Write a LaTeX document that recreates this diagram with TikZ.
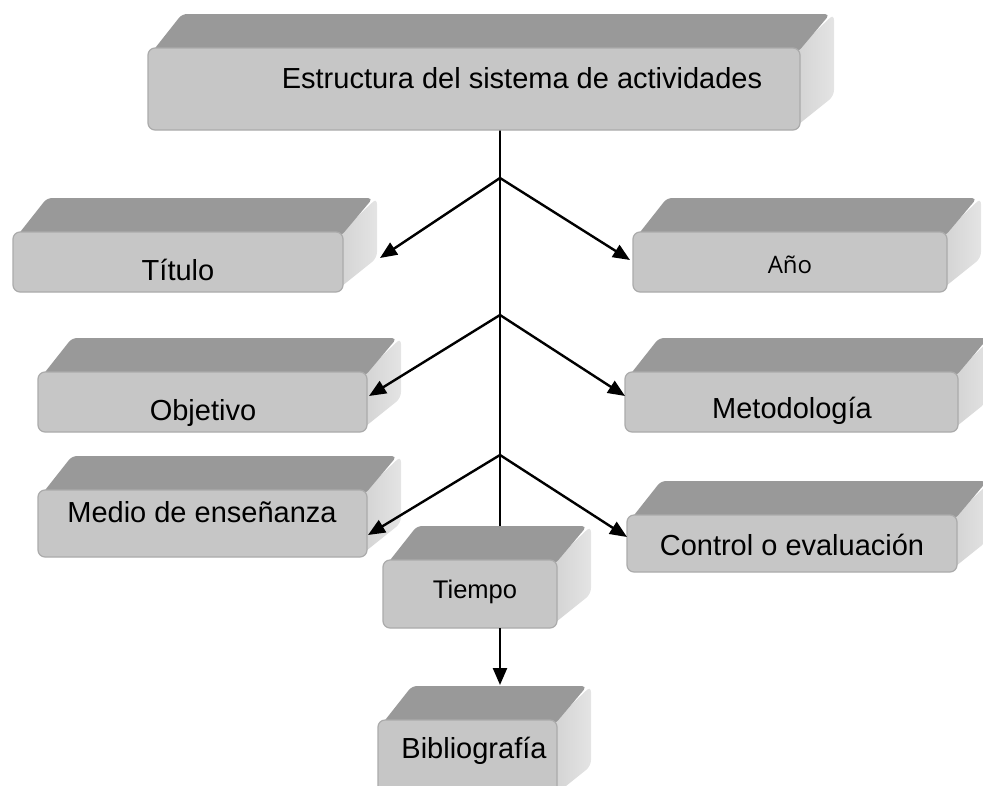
\documentclass[tikz,border=0pt]{standalone}
\usepackage{fontspec}
\setmainfont{Liberation Sans}
\newfontfamily\aofont{Open Sans}
\usetikzlibrary{arrows.meta}
\definecolor{frontc}{HTML}{C6C6C6}
\definecolor{topc}{HTML}{999999}
\definecolor{sidec}{HTML}{E4E4E4}
\definecolor{sidedk}{HTML}{D2D2D2}
\definecolor{edgec}{HTML}{ABABAB}
\tikzset{
  frontface/.style={draw=edgec, line width=1.2pt, fill=frontc, rounded corners=7pt,
    inner sep=0pt, outer sep=0pt},
  lbl/.style={inner sep=0pt, anchor=base, font=\fontsize{29}{34}\selectfont},
  conn/.style={line width=2.4pt, draw=black},
  arr/.style={conn, -{Triangle[length=17pt,width=14pt]}},
}
% name, x1, y1, x2, y2 (pixel coordinates, y downward), depth 34
\newcommand{\bevelbox}[5]{%
  \shade[left color=sidedk, right color=sidec, rounded corners=6pt]
    ({#4-6},{#3+4}) -- ({#4+34},{#3-34}) -- ({#4+34},{#5-34}) -- ({#4-6},{#5-2}) -- cycle;
  \fill[topc, rounded corners=5pt]
    ({#2+4},{#3+4}) -- ({#2+34},{#3-34}) -- ({#4+30},{#3-34}) -- ({#4-2},{#3+4}) -- cycle;
  \node[frontface, minimum width={#4-#2}, minimum height={#5-#3}] (#1)
    at ({(#2+#4)/2},{(#3+#5)/2}) {};
}
\begin{document}
\begin{tikzpicture}[x=1pt, y=-1pt]
\useasboundingbox (0,0) rectangle (983,785);
\clip (0,0) rectangle (983,785);

% connector coordinates
\coordinate (j0) at (500,130);
\coordinate (j4) at (500,560);
\coordinate (j1) at (500,178);
\coordinate (j2) at (500,315);
\coordinate (j3) at (500,455);
\coordinate (tTit) at (380,258);
\coordinate (tAno) at (630,260);
\coordinate (tObj) at (369,396);
\coordinate (tMet) at (625,396);
\coordinate (tMed) at (368,535);
\coordinate (tCon) at (627,537);
\coordinate (s5) at (500,628);
\coordinate (tBib) at (500,685);

% main trunk (behind the boxes)
\draw[conn] (j0) -- (j4);

% boxes
\bevelbox{top}{148}{48}{800}{130}
\bevelbox{tit}{13}{232}{343}{292}
\bevelbox{ano}{633}{232}{947}{292}
\bevelbox{obj}{38}{372}{367}{432}
\bevelbox{met}{625}{372}{958}{432}
\bevelbox{med}{38}{490}{367}{557}
\bevelbox{con}{627}{515}{957}{572}
\bevelbox{tie}{383}{560}{557}{628}
\bevelbox{bib}{378}{720}{557}{800}

% labels
\node[lbl] (ltop) at (522,88) {Estructura del sistema de actividades};
\node[lbl] (ltit) at (178,280) {Título};
\node[lbl, font=\aofont\fontsize{24}{28}\selectfont] (lano) at (790,273) {Año};
\node[lbl] (lobj) at (203,420) {Objetivo};
\node[lbl] (lmet) at (792,418) {Metodología};
\node[lbl] (lmed) at (202,522) {Medio de enseñanza};
\node[lbl] (lcon) at (792,555) {Control o evaluación};
\node[lbl, font=\fontsize{25.5}{30}\selectfont] (ltie) at (475,598) {Tiempo};
\node[lbl] (lbib) at (474,758) {Bibliografía};

% arrows
\draw[arr] (j1) -- (tTit);
\draw[arr] (j1) -- (tAno);
\draw[arr] (j2) -- (tObj);
\draw[arr] (j2) -- (tMet);
\draw[arr] (j3) -- (tMed);
\draw[arr] (j3) -- (tCon);
\draw[arr] (s5) -- (tBib);
\end{tikzpicture}
\end{document}
